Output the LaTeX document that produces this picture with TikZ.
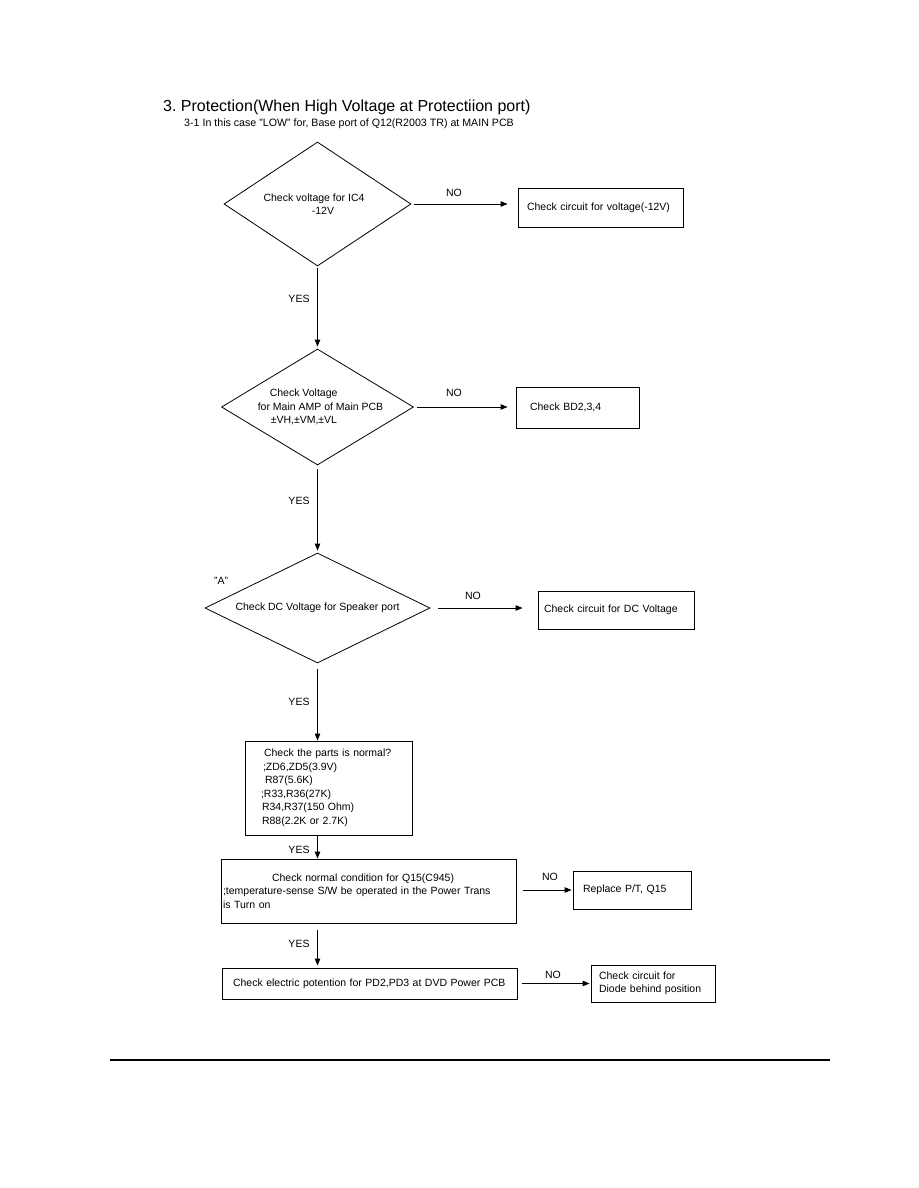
\documentclass[tikz,border=0pt]{standalone}
\usepackage{fontspec}
\setmainfont{Liberation Sans}
\usetikzlibrary{shapes.geometric,arrows.meta}
\frenchspacing
\begin{document}
\begin{tikzpicture}[x=1pt,y=-1pt,
  txt/.style={font=\fontsize{10.5}{13.5}\selectfont},
  dia/.style={draw, diamond, line width=0.8pt, inner sep=0pt, txt},
  box/.style={draw, rectangle, line width=0.9pt, inner ysep=0pt, align=left, txt},
  yn/.style={inner sep=0pt, txt},
  arr/.style={-{Triangle[length=7pt,width=5.5pt]}, line width=0.9pt},
]
\fill[white] (0,0) rectangle (918,1188);
\useasboundingbox (0,0) rectangle (918,1188);

% titles
\node[anchor=base west, inner sep=0pt, font=\fontsize{16}{19}\selectfont] (title) at (163,112) {\frenchspacing 3. Protection(When High Voltage at Protectiion port)};
\node[anchor=base west, inner sep=0pt, font=\fontsize{10.65}{13}\selectfont] (sub) at (184,127) {3-1 In this case "LOW" for, Base port of Q12(R2003 TR) at MAIN PCB};

% decisions
\node[dia, minimum width=187pt, minimum height=124pt, aspect=1.5, align=center] (d1) at (317.5,204) {Check voltage for IC4\rule{7pt}{0pt}\\\rule{11pt}{0pt}-12V};
\node[dia, inner sep=-2pt, minimum width=192pt, minimum height=116pt, aspect=1.65, align=left] (d2) at (317.5,407) {\rule{18pt}{0pt}Check Voltage\\\rule{6pt}{0pt}for Main AMP of Main PCB\\\rule{19pt}{0pt}±VH,±VM,±VL};
\node[dia, minimum width=225pt, minimum height=110pt, aspect=2.05, align=center] (d3) at (317.5,608) {Check DC Voltage for Speaker port};

% boxes
\node[box, minimum width=165pt, minimum height=39pt, inner xsep=9pt, text width=147pt] (b1) at (600.5,207.5) {Check circuit for voltage(-12V)};
\node[box, minimum width=123pt, minimum height=41pt, inner xsep=14pt, text width=95pt] (b2) at (577.5,407.5) {Check BD2,3,4};
\node[box, minimum width=156pt, minimum height=38pt, inner xsep=6pt, text width=144pt] (b3) at (616,610) {Check circuit for DC Voltage};
\node[box, minimum width=167pt, minimum height=94pt, inner xsep=16pt, text width=135pt] (parts) at (328.5,788) {\rule{3pt}{0pt}Check the parts is normal?\\\rule{2pt}{0pt};ZD6,ZD5(3.9V)\\\rule{4pt}{0pt}R87(5.6K)\\;R33,R36(27K)\\\rule{1pt}{0pt}R34,R37(150 Ohm)\\\rule{1pt}{0pt}R88(2.2K or 2.7K)};
\node[box, minimum width=295pt, minimum height=64pt, inner xsep=2pt, text width=291pt] (q15) at (368.5,891) {\rule{49pt}{0pt}Check normal condition for Q15(C945)\\;temperature-sense S/W be operated in the Power Trans\\is Turn on};
\node[box, minimum width=118pt, minimum height=38pt, inner xsep=10pt, text width=98pt] (rep) at (632,890) {Replace P/T, Q15};
\node[box, minimum width=295pt, minimum height=31pt, inner xsep=11pt, text width=273pt] (pd) at (369.5,983.5) {Check electric potention for PD2,PD3 at DVD Power PCB};
\node[box, minimum width=124pt, minimum height=37pt, inner xsep=8pt, text width=108pt] (diode) at (653,983.5) {Check circuit for\\Diode behind position};

% labels
\node[yn] (no1) at (454,193) {NO};
\node[yn] (no2) at (454,393) {NO};
\node[yn] (no3) at (473,596) {NO};
\node[yn] (no4) at (550,877) {NO};
\node[yn] (no5) at (553,975) {NO};
\node[yn] (yes1) at (299,299) {YES};
\node[yn] (yes2) at (299,501) {YES};
\node[yn] (yes3) at (299,702) {YES};
\node[yn] (yes4) at (299,850) {YES};
\node[yn] (yes5) at (299,944) {YES};
\node[yn] (A) at (221,581) {"A"};

% connectors
\draw[arr, shorten <=2pt, shorten >=2pt] (d1.south) -- (d2.north);
\draw[arr, shorten <=3pt, shorten >=10pt] (d1.east) -- (d1.east -| b1.west);
\draw[arr, shorten <=3pt, shorten >=8pt] (d2.east) -- (d2.east -| b2.west);
\draw[arr, shorten <=4pt, shorten >=2pt] (d2.south) -- (d3.north);
\draw[arr, shorten <=8pt, shorten >=15pt] (d3.east) -- (d3.east -| b3.west);
\draw[arr, shorten <=6pt] (d3.south) -- (d3.south |- parts.north);
\draw[arr] (parts.south -| d3.south) -- (q15.north -| d3.south);
\draw[arr, shorten <=7pt, shorten >=1pt] (rep.west -| q15.east) -- (rep.west);
\draw[arr, shorten <=7pt, shorten >=2pt] (q15.south -| d3.south) -- (pd.north -| d3.south);
\draw[arr, shorten <=5pt, shorten >=1pt] (pd.east) -- (pd.east -| diode.west);

% page rule
\draw[line width=2.5pt] (110,1060) -- (830,1060);
\end{tikzpicture}
\end{document}
